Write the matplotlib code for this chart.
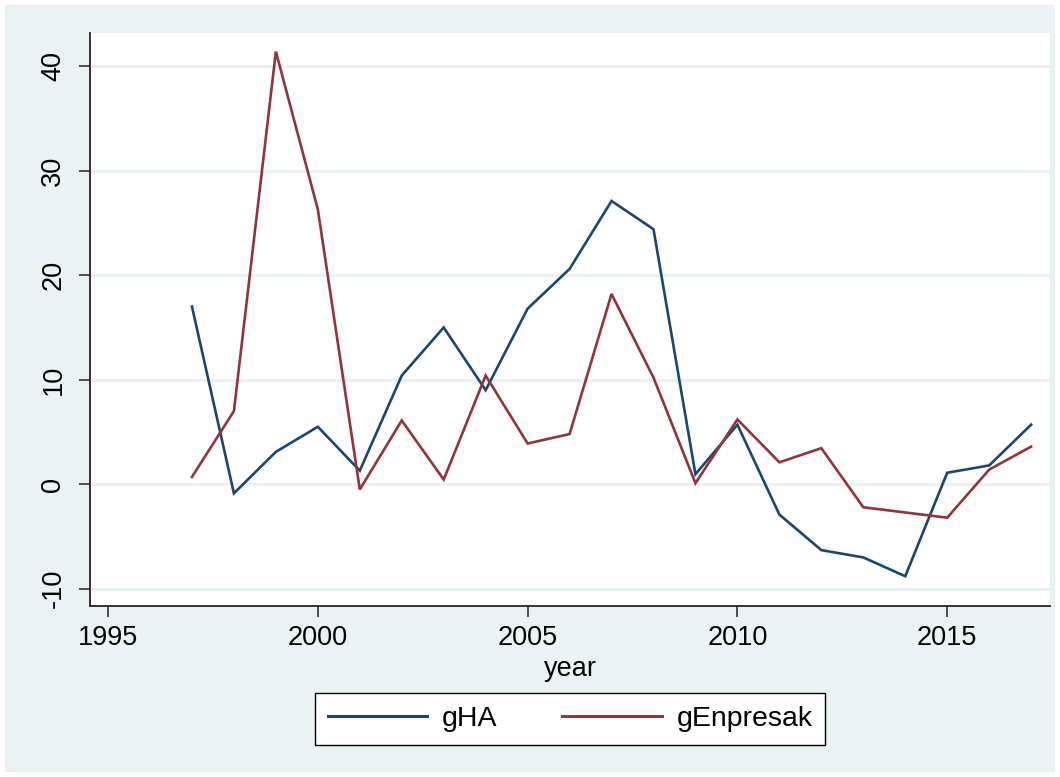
import matplotlib
matplotlib.use("Agg")
import matplotlib.pyplot as plt
from matplotlib.patches import Rectangle

years = list(range(1997, 2018))
gHA = [17.0, -0.87, 3.1, 5.5, 1.3, 10.4, 15.0, 9.0, 16.8, 20.6, 27.1, 24.4,
       0.96, 5.7, -2.9, -6.3, -7.0, -8.8, 1.1, 1.8, 5.7]
gEnpresak = [0.7, 7.0, 41.4, 26.3, -0.5, 6.1, 0.45, 10.4, 3.9, 4.8, 18.2, 10.2,
             0.1, 6.2, 2.1, 3.45, -2.2, -2.7, -3.2, 1.4, 3.6]
xticks = [1995, 2000, 2005, 2010, 2015]
yticks = [-10, 0, 10, 20, 30, 40]

plt.rcParams['font.family'] = ['Liberation Sans', 'DejaVu Sans']
W, H = 1060, 777
fig = plt.figure(figsize=(W / 100, H / 100), dpi=100, facecolor='white')
bg = '#EAF2F3'
fig.patches.append(Rectangle((5 / W, 5 / H), 1050 / W, 767 / H,
                             transform=fig.transFigure, facecolor=bg,
                             edgecolor='none', zorder=-10))

ax = fig.add_axes([90 / W, 1 - 605.5 / H, 960 / W, (605.5 - 32.7) / H])
ax.set_facecolor('white')
ax.plot(years, gHA, color='#1A476F', lw=1.9, label='gHA', solid_joinstyle='miter')
ax.plot(years, gEnpresak, color='#90353B', lw=1.9, label='gEnpresak', solid_joinstyle='miter')

ax.set_xlim(1994.57, 2017.45)
ax.set_ylim(-11.6, 43.2)
ax.set_xticks(xticks)
ax.set_yticks(yticks)
ax.set_yticklabels([str(v) for v in yticks], rotation=90, va='center')
ax.tick_params(axis='both', labelsize=19.5, length=8, width=1.2, color='#333333', direction='out', pad=6)
ax.tick_params(axis='y', pad=9)
ax.grid(axis='y', color=bg, lw=2.2)
ax.set_axisbelow(True)
for s in ['top', 'right']:
    ax.spines[s].set_visible(False)
for s in ['left', 'bottom']:
    ax.spines[s].set_linewidth(1.3)
    ax.spines[s].set_color('#222222')
ax.set_xlabel('year', fontsize=19.5, labelpad=4)

leg = ax.legend(loc='center', bbox_to_anchor=(570 / W, 1 - 719 / H), bbox_transform=fig.transFigure,
                ncol=2, fontsize=20.5, frameon=True, fancybox=False, edgecolor='black',
                facecolor='white', framealpha=1.0,
                handlelength=3.5, columnspacing=2.3, handletextpad=0.5, borderpad=0.45)
leg.get_frame().set_linewidth(1.0)
for l in leg.get_lines():
    l.set_linewidth(2.2)

fig.savefig('out.png', dpi=100, facecolor='white')
